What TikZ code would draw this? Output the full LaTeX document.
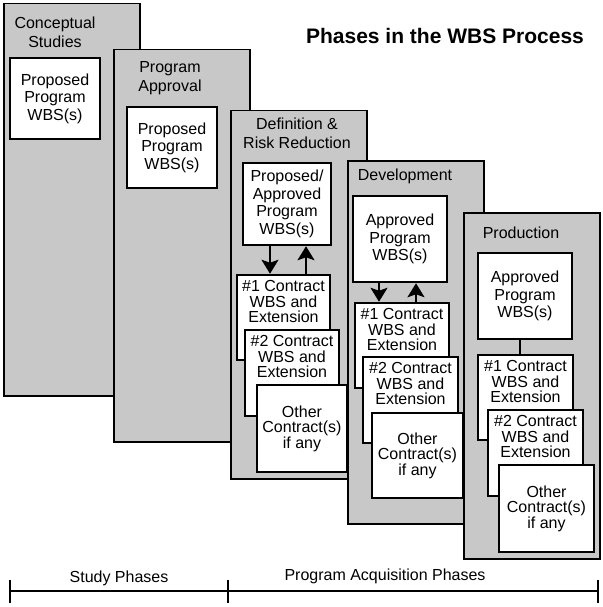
\documentclass[tikz,border=0pt]{standalone}
\usepackage{fontspec}
\setmainfont{Liberation Sans}
\usetikzlibrary{arrows.meta,positioning}
\definecolor{panelgray}{RGB}{200,200,200}
\tikzset
{
    phasebox/.style = {rectangle, draw=black, line width=1.5pt, fill=panelgray, anchor=north west, minimum width=136pt},
    phasetitle/.style = {align=center, font=\fontsize{16}{19}\selectfont},
    wbsbox/.style = {rectangle, draw=black, line width=2.5pt, fill=white, align=center, minimum width=94pt, minimum height=86pt, font=\fontsize{16}{17.5}\selectfont},
    otherbox/.style = {wbsbox, font=\fontsize{16}{15.5}\selectfont},
    toptext/.style = {align=center, anchor=north, inner sep=3pt, yshift=-3.5pt, font=\fontsize{16}{15.5}\selectfont},
    flow/.style = {line width=2pt, -{Stealth[length=14pt,width=17pt,inset=3pt]}},
    timeline/.style = {line width=1.6pt}
}

\begin{document}
\begin{tikzpicture}[x=1pt, y=-1pt]
\useasboundingbox (0,0) rectangle (602,607);
\node[font=\bfseries\fontsize{21}{25}\selectfont] (wbstitle) at (445,36) {Phases in the WBS Process};

\node[phasebox, minimum height=392pt] (concept) at (3,3) {};
\node[phasetitle] (concepttitle) at (55,32) {Conceptual\\Studies};
\node[wbsbox, minimum width=90pt, minimum height=81pt] (conceptwbs) at (55,98.5) {Proposed\\Program\\WBS(s)};

\node[phasebox, minimum height=392pt] (approval) at (113,49) {};
\node[phasetitle] (approvaltitle) at (170,78) {Program\\Approval};
\node[wbsbox, minimum width=90pt, minimum height=81pt] (approvalwbs) at (172,147.5) {Proposed\\Program\\WBS(s)};

\node[phasebox, minimum height=368pt] (definition) at (230,110) {};
\node[phasetitle] (definitiontitle) at (297,133) {Definition \&\\Risk Reduction};
\node[wbsbox, minimum width=88pt, minimum height=82pt] (definitionwbs) at (287,204) {Proposed/\\Approved\\Program\\WBS(s)};
\node[wbsbox, minimum width=93pt, minimum height=85pt, label={[toptext]north:{\#1 Contract\\WBS and\\Extension}}] (definitionone) at (283.5,317.5) {};
\node[wbsbox, minimum width=94pt, minimum height=86pt, label={[toptext]north:{\#2 Contract\\WBS and\\Extension}}] (definitiontwo) at (292,373) {};
\node[otherbox, minimum width=90pt, minimum height=87pt] (definitionother) at (302,428.5) {Other\\Contract(s)\\if any};
\draw[flow] ([xshift=-17pt]definitionwbs.south) -- ([xshift=-17pt]definitionwbs.south |- definitionone.north);
\draw[flow] ([xshift=19pt]definitionwbs.south |- definitionone.north) -- ([xshift=19pt]definitionwbs.south);

\node[phasebox, minimum height=363pt] (development) at (347,160) {};
\node[phasetitle] (developmenttitle) at (405,176) {Development};
\node[wbsbox] (developmentwbs) at (400,239) {Approved\\Program\\WBS(s)};
\node[wbsbox, minimum height=85pt, label={[toptext]north:{\#1 Contract\\WBS and\\Extension}}] (developmentone) at (402,345.5) {};
\node[wbsbox, minimum width=95pt, label={[toptext]north:{\#2 Contract\\WBS and\\Extension}}] (developmenttwo) at (410.5,400) {};
\node[otherbox, minimum width=91pt, minimum height=85pt] (developmentother) at (417.5,455.5) {Other\\Contract(s)\\if any};
\draw[flow] ([xshift=-21pt]developmentwbs.south) -- ([xshift=-21pt]developmentwbs.south |- developmentone.north);
\draw[flow] ([xshift=16pt]developmentwbs.south |- developmentone.north) -- ([xshift=16pt]developmentwbs.south);

\node[phasebox, minimum height=346pt] (production) at (463,212) {};
\node[phasetitle] (productiontitle) at (521,233) {Production};
\node[wbsbox] (productionwbs) at (525,296) {Approved\\Program\\WBS(s)};
\draw[line width=2pt] ([xshift=-5pt]productionwbs.south) -- ([xshift=-5pt]productionwbs.south |- 0,355);
\node[wbsbox, minimum width=95pt, minimum height=85pt, label={[toptext]north:{\#1 Contract\\WBS and\\Extension}}] (productionone) at (525.5,397.5) {};
\node[wbsbox, minimum width=95pt, label={[toptext]north:{\#2 Contract\\WBS and\\Extension}}] (productiontwo) at (535.5,453) {};
\node[otherbox, minimum width=95pt, minimum height=87pt] (productionother) at (546.5,508.5) {Other\\Contract(s)\\if any};

\coordinate (tstart) at (10,591);
\coordinate (tmid) at (228,591);
\coordinate (tend) at (598,591);
\draw[timeline] (tstart) -- (tend);
\draw[timeline] ([yshift=11pt]tstart) -- ([yshift=-12pt]tstart);
\draw[timeline] ([yshift=11pt]tmid) -- ([yshift=-12pt]tmid);
\draw[timeline] ([yshift=11pt]tend) -- ([yshift=-12pt]tend);
\node[font=\fontsize{16}{19}\selectfont] (studylabel) at (119,578) {Study Phases};
\node[font=\fontsize{16}{19}\selectfont] (acquisitionlabel) at (385,576) {Program Acquisition Phases};
\end{tikzpicture}
\end{document}
